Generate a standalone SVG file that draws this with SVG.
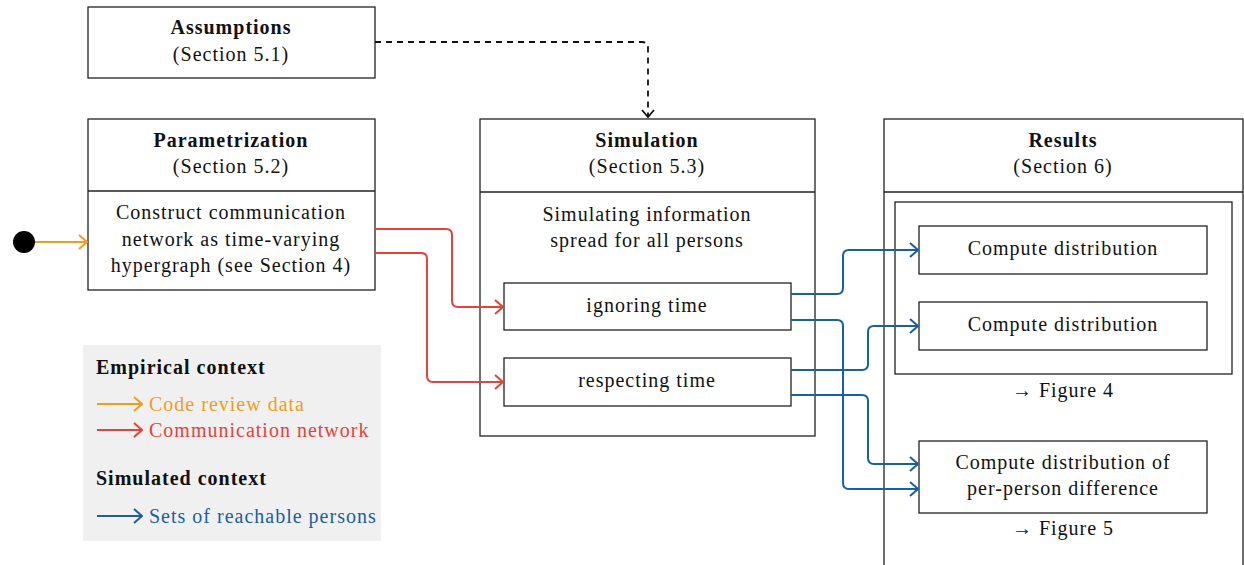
<svg xmlns="http://www.w3.org/2000/svg" width="1244" height="565" viewBox="0 0 1244 565">
<defs>
<style>
.box{fill:#fff;stroke:#222;stroke-width:1.3}
.t{font-family:"Liberation Serif",serif;font-size:20px;letter-spacing:1px;fill:#111;text-anchor:middle}
.b{font-weight:bold}
.l{font-family:"Liberation Serif",serif;font-size:20px;letter-spacing:1px;text-anchor:start}
.c{fill:none;stroke-width:2;stroke-linejoin:round}
.or{stroke:#f39c1f}
.rd{stroke:#e8413a}
.bl{stroke:#1a5f9e}
</style>
<marker id="aO" markerWidth="12" markerHeight="16" refX="11" refY="8" orient="auto" markerUnits="userSpaceOnUse"><path d="M3,1 L11,8 L3,15" fill="none" stroke="#f39c1f" stroke-width="2"/></marker>
<marker id="aR" markerWidth="12" markerHeight="16" refX="11" refY="8" orient="auto" markerUnits="userSpaceOnUse"><path d="M3,1 L11,8 L3,15" fill="none" stroke="#e8413a" stroke-width="2"/></marker>
<marker id="aB" markerWidth="12" markerHeight="16" refX="11" refY="8" orient="auto" markerUnits="userSpaceOnUse"><path d="M3,1 L11,8 L3,15" fill="none" stroke="#1a5f9e" stroke-width="2"/></marker>
<marker id="aK" markerWidth="14" markerHeight="12" refX="7" refY="11" orient="0" markerUnits="userSpaceOnUse"><path d="M1,4 L7,11 L13,4" fill="none" stroke="#111" stroke-width="1.8"/></marker>
</defs>

<g id="assumptions">
<rect class="box" x="88" y="7" width="287" height="71"/>
<text class="t b" x="231" y="34">Assumptions</text>
<text class="t" x="231" y="61">(Section 5.1)</text>
</g>

<g id="parametrization">
<rect class="box" x="88" y="119" width="287" height="171"/>
<line x1="88" y1="191" x2="375" y2="191" stroke="#222" stroke-width="1.3"/>
<text class="t b" x="231" y="147">Parametrization</text>
<text class="t" x="231" y="173">(Section 5.2)</text>
<text class="t" x="231" y="219">Construct communication</text>
<text class="t" x="231" y="246">network as time-varying</text>
<text class="t" x="231" y="272">hypergraph (see Section 4)</text>
</g>

<g id="start">
<circle cx="24" cy="242" r="11" fill="#000"/>
</g>

<g id="simulation">
<rect class="box" x="480" y="119" width="335" height="317"/>
<line x1="480" y1="192" x2="815" y2="192" stroke="#222" stroke-width="1.3"/>
<text class="t b" x="647" y="147">Simulation</text>
<text class="t" x="647" y="173">(Section 5.3)</text>
<text class="t" x="647" y="221">Simulating information</text>
<text class="t" x="647" y="247">spread for all persons</text>
</g>

<g id="ignoring">
<rect class="box" x="504" y="283" width="287" height="47"/>
<text class="t" x="647" y="312">ignoring time</text>
</g>

<g id="respecting">
<rect class="box" x="504" y="358" width="287" height="48"/>
<text class="t" x="647" y="387">respecting time</text>
</g>

<g id="results">
<rect class="box" x="884" y="119" width="359" height="450"/>
<line x1="884" y1="192" x2="1243" y2="192" stroke="#222" stroke-width="1.3"/>
<text class="t b" x="1063" y="147">Results</text>
<text class="t" x="1063" y="173">(Section 6)</text>
</g>

<g id="fig4group">
<rect class="box" x="895" y="202" width="337" height="172"/>
<text class="t" x="1063" y="397">→ Figure 4</text>
</g>

<g id="dist1">
<rect class="box" x="919" y="226" width="288" height="48"/>
<text class="t" x="1063" y="255">Compute distribution</text>
</g>

<g id="dist2">
<rect class="box" x="919" y="302" width="288" height="48"/>
<text class="t" x="1063" y="331">Compute distribution</text>
</g>

<g id="diff">
<rect class="box" x="919" y="441" width="288" height="72"/>
<text class="t" x="1063" y="469">Compute distribution of</text>
<text class="t" x="1063" y="495">per-person difference</text>
<text class="t" x="1063" y="535">→ Figure 5</text>
</g>

<g id="legend">
<rect x="83" y="345" width="298" height="196" fill="#f0f0f0"/>
<text class="l b" x="96" y="374" fill="#111">Empirical context</text>
<line class="c or" x1="97" y1="404" x2="142" y2="404" marker-end="url(#aO)"/>
<text class="l" x="149" y="411" fill="#f39c1f">Code review data</text>
<line class="c rd" x1="97" y1="430" x2="142" y2="430" marker-end="url(#aR)"/>
<text class="l" x="149" y="437" fill="#e8413a">Communication network</text>
<text class="l b" x="96" y="485" fill="#111">Simulated context</text>
<line class="c bl" x1="97" y1="516" x2="142" y2="516" marker-end="url(#aB)"/>
<text class="l" x="149" y="523" fill="#1a5f9e">Sets of reachable persons</text>
</g>

<g id="connectors">
<path d="M375,42 H642 Q648,42 648,48 V117" fill="none" stroke="#111" stroke-width="1.8" stroke-dasharray="6,5" marker-end="url(#aK)"/>
<line class="c or" x1="35" y1="242" x2="87" y2="242" marker-end="url(#aO)"/>
<path class="c rd" d="M375,229 H446 Q452,229 452,235 V301 Q452,307 458,307 H503" marker-end="url(#aR)"/>
<path class="c rd" d="M375,253 H421 Q427,253 427,259 V376 Q427,382 433,382 H503" marker-end="url(#aR)"/>
<path class="c bl" d="M791,294 H837 Q843,294 843,288 V256 Q843,250 849,250 H918" marker-end="url(#aB)"/>
<path class="c bl" d="M791,320 H837 Q843,320 843,326 V483 Q843,489 849,489 H918" marker-end="url(#aB)"/>
<path class="c bl" d="M791,370 H862 Q868,370 868,364 V332 Q868,326 874,326 H918" marker-end="url(#aB)"/>
<path class="c bl" d="M791,395 H862 Q868,395 868,401 V458 Q868,464 874,464 H918" marker-end="url(#aB)"/>
</g>
</svg>
